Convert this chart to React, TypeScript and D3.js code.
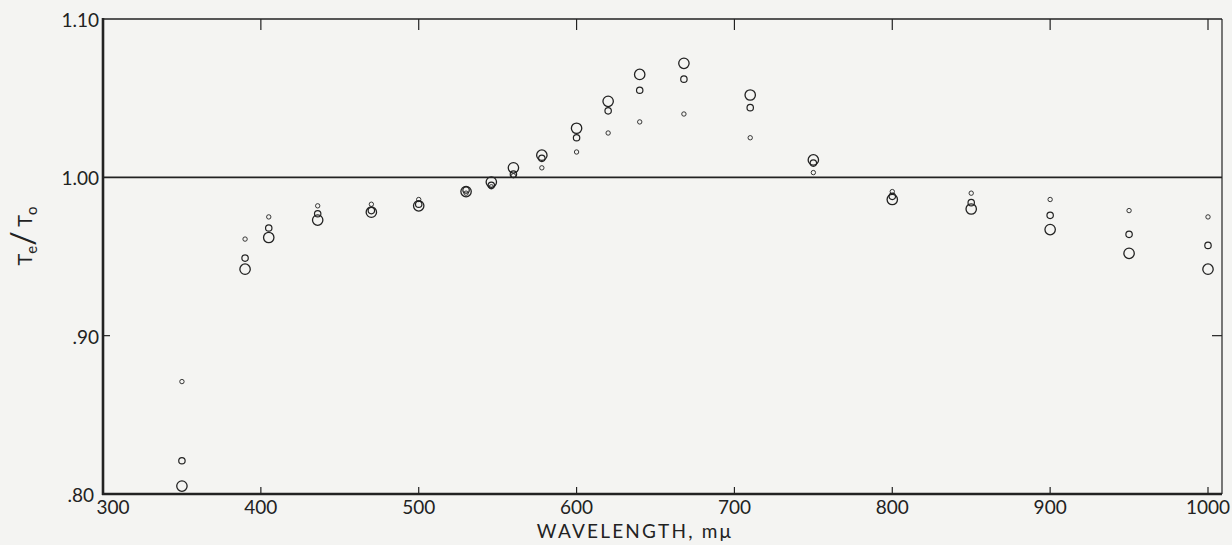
import React, { useEffect, useRef } from 'react';
import * as d3 from 'd3';

// wavelengths in mμ
const wavelengths = [350, 390, 405, 436, 470, 500, 530, 546, 560, 578, 600, 620, 640, 668, 710, 750, 800, 850, 900, 950, 1000];

// Te/To, three sets of points (small, medium, large circles)
const smallPts = [0.871, 0.961, 0.975, 0.982, 0.983, 0.986, 0.990, 0.994, 1.001, 1.006, 1.016, 1.028, 1.035, 1.040, 1.025, 1.003, 0.991, 0.990, 0.986, 0.979, 0.975];
const mediumPts = [0.821, 0.949, 0.968, 0.977, 0.979, 0.983, 0.992, 0.995, 1.002, 1.012, 1.025, 1.042, 1.055, 1.062, 1.044, 1.009, 0.988, 0.984, 0.976, 0.964, 0.957];
const largePts = [0.805, 0.942, 0.962, 0.973, 0.978, 0.982, 0.991, 0.997, 1.006, 1.014, 1.031, 1.048, 1.065, 1.072, 1.052, 1.011, 0.986, 0.980, 0.967, 0.952, 0.942];

const xTicks = [300, 400, 500, 600, 700, 800, 900, 1000];
const yTicks = [0.8, 0.9, 1.0, 1.1];
const yTickLabels = ['.80', '.90', '1.00', '1.10'];

const W = 1232;
const H = 545;
const ink = '#222';
const font = 'Lato, "DejaVu Sans", sans-serif';

const App: React.FC = () => {
  const svgRef = useRef<SVGSVGElement | null>(null);

  useEffect(() => {
    if (!svgRef.current) return;
    const svg = d3.select(svgRef.current);
    svg.selectAll('*').remove();

    const left = 103;
    const right = 1222;
    const top = 19;
    const bottom = 494;

    const x = d3.scaleLinear().domain([300, 1000]).range([left, 1208]);
    const y = d3.scaleLinear().domain([0.8, 1.1]).range([bottom, top]);

    svg.append('rect').attr('width', W).attr('height', H).attr('fill', '#f4f4f2');

    // frame
    svg.append('line').attr('x1', left).attr('x2', right).attr('y1', top).attr('y2', top)
      .attr('stroke', ink).attr('stroke-width', 1.6);
    svg.append('line').attr('x1', right).attr('x2', right).attr('y1', top).attr('y2', bottom)
      .attr('stroke', ink).attr('stroke-width', 1.2);
    svg.append('line').attr('x1', left).attr('x2', left).attr('y1', top - 1).attr('y2', bottom + 1)
      .attr('stroke', ink).attr('stroke-width', 2.6);
    svg.append('line').attr('x1', left - 1).attr('x2', right).attr('y1', bottom).attr('y2', bottom)
      .attr('stroke', ink).attr('stroke-width', 2.6);

    // reference line at 1.00
    svg.append('line').attr('x1', left).attr('x2', right).attr('y1', y(1)).attr('y2', y(1))
      .attr('stroke', ink).attr('stroke-width', 1.6);

    // x ticks (bottom and top, inward)
    xTicks.slice(1).forEach(t => {
      svg.append('line').attr('x1', x(t)).attr('x2', x(t)).attr('y1', bottom).attr('y2', bottom - 7)
        .attr('stroke', ink).attr('stroke-width', 1.2);
      svg.append('line').attr('x1', x(t)).attr('x2', x(t)).attr('y1', top).attr('y2', top + 11)
        .attr('stroke', ink).attr('stroke-width', 1.2);
    });
    svg.selectAll('text.xlab')
      .data(xTicks)
      .enter()
      .append('text')
      .attr('class', 'xlab')
      .attr('x', (d, i) => x(d) + (i === 0 ? 10 : 0))
      .attr('y', 514)
      .attr('text-anchor', 'middle')
      .attr('font-family', font)
      .attr('font-size', 19)
      .attr('fill', ink)
      .text(d => String(d));

    // y ticks
    [0.9].forEach(t => {
      svg.append('line').attr('x1', left).attr('x2', left + 7).attr('y1', y(t)).attr('y2', y(t))
        .attr('stroke', ink).attr('stroke-width', 1.2);
      svg.append('line').attr('x1', right).attr('x2', right - 10).attr('y1', y(t)).attr('y2', y(t))
        .attr('stroke', ink).attr('stroke-width', 1.2);
    });
    svg.selectAll('text.ylab')
      .data(yTicks)
      .enter()
      .append('text')
      .attr('class', 'ylab')
      .attr('x', (d) => left - (d === 0.8 ? 9 : 4))
      .attr('y', d => y(d) + 8)
      .attr('text-anchor', 'end')
      .attr('font-family', font)
      .attr('font-size', 19)
      .attr('fill', ink)
      .text((d, i) => yTickLabels[i]);

    // axis titles
    svg.append('text')
      .attr('x', 635)
      .attr('y', 538)
      .attr('text-anchor', 'middle')
      .attr('font-family', font)
      .attr('font-size', 19)
      .attr('letter-spacing', 2.2)
      .attr('fill', ink)
      .text('WAVELENGTH, mμ');

    const yt = svg.append('text')
      .attr('transform', 'translate(32,236) rotate(-90)')
      .attr('text-anchor', 'middle')
      .attr('font-family', font)
      .attr('font-size', 20)
      .attr('fill', ink);
    yt.append('tspan').text('T');
    yt.append('tspan').attr('font-size', 15).attr('dy', 5).text('e');
    yt.append('tspan').attr('font-size', 32).attr('dy', -3).text('/');
    yt.append('tspan').attr('dy', -2).text(' T');
    yt.append('tspan').attr('font-size', 15).attr('dy', 5).text('o');

    // points
    const series: { vals: number[]; r: number; sw: number }[] = [
      { vals: smallPts, r: 2.2, sw: 0.9 },
      { vals: mediumPts, r: 3.2, sw: 1.2 },
      { vals: largePts, r: 5.2, sw: 1.3 },
    ];
    series.forEach(s => {
      svg.append('g')
        .selectAll('circle')
        .data(wavelengths)
        .enter()
        .append('circle')
        .attr('cx', d => x(d))
        .attr('cy', (d, i) => y(s.vals[i]))
        .attr('r', s.r)
        .attr('fill', 'none')
        .attr('stroke', ink)
        .attr('stroke-width', s.sw);
    });
  }, []);

  return (
    <div style={{ position: 'absolute', left: 0, top: 0, width: W, height: H }}>
      <svg ref={svgRef} width={W} height={H} style={{ display: 'block' }} />
    </div>
  );
};

export default App;
